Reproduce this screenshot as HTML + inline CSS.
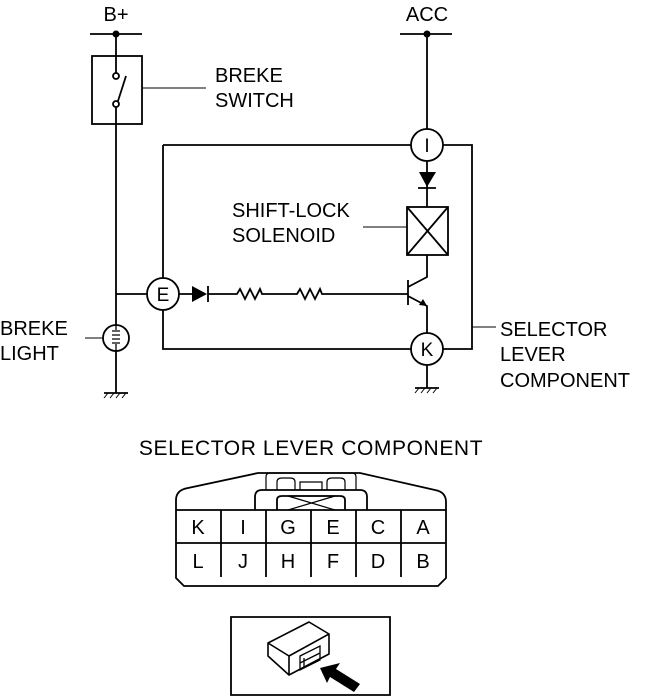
<!DOCTYPE html>
<html><head><style>body{margin:0;background:#fff}svg{display:block}text{font-family:"Liberation Sans",sans-serif;fill:#000}</style></head><body>
<svg width="650" height="697" viewBox="0 0 650 697" xmlns="http://www.w3.org/2000/svg">
<g stroke="#000" stroke-width="1.8" fill="none">
<line x1="90" y1="34" x2="142" y2="34"/><line x1="400" y1="34" x2="452" y2="34"/>
<rect x="92" y="56" width="50" height="68"/>
<line x1="116" y1="34" x2="116" y2="73"/><line x1="116" y1="107" x2="116" y2="393"/>
<circle cx="116" cy="76" r="3" fill="#fff"/><circle cx="116" cy="104" r="3" fill="#fff"/>
<line x1="118" y1="101" x2="126" y2="76"/>
<line x1="142" y1="88" x2="206" y2="88" stroke-width="1"/>
<line x1="427" y1="34" x2="427" y2="129"/>
<path d="M163 145 H411 M443 145 H472 V349 H443 M411 349 H163 V310 M163 278 V145"/>
<circle cx="427" cy="145" r="16"/><circle cx="427" cy="349" r="16"/><circle cx="163" cy="294" r="16"/>
<line x1="427" y1="161" x2="427" y2="207"/><line x1="418" y1="188" x2="436" y2="188"/>
<rect x="407" y="207" width="41" height="48"/><line x1="407" y1="207" x2="448" y2="255"/><line x1="448" y1="207" x2="407" y2="255"/>
<line x1="363" y1="227" x2="407" y2="227" stroke-width="1"/>
<path d="M427 255 V277 L408 287 M408 280 V305 M408 296 L427 306 V333"/>
<line x1="427" y1="365" x2="427" y2="388"/>
<line x1="116" y1="294" x2="147" y2="294"/>
<path d="M179 294 H192 M208 294 H237 L240 289 L245 299 L250 289 L255 299 L260 289 L262 294 H297 L300 289 L305 299 L310 289 L315 299 L320 289 L322 294 H408"/>
<line x1="208" y1="286" x2="208" y2="302"/>
<circle cx="116" cy="338" r="13" fill="#fff"/>
<path d="M116 325 V330 M112 331 H120 M112 335 H120 M112 339 H120 M112 343 H120 M116 344 V351" stroke-width="1.3"/>
<line x1="85" y1="338" x2="103" y2="338" stroke-width="1"/>
<line x1="472" y1="327" x2="496" y2="327" stroke-width="1"/>
<line x1="104" y1="393" x2="128" y2="393"/><path d="M104 398 L108 393 M110 398 L114 393 M116 398 L120 393 M122 398 L126 393" stroke-width="1"/>
<line x1="415" y1="388" x2="439" y2="388"/><path d="M415 393 L419 388 M421 393 L425 388 M427 393 L431 388 M433 393 L437 388" stroke-width="1"/>
</g>
<circle cx="116" cy="34" r="3.5"/><circle cx="427" cy="34" r="3.5"/>
<path d="M419 172 H436 L427 187 Z"/><path d="M192 286 V302 L207 294 Z"/><path d="M427 306 L419 305 L423 299 Z"/>
<g font-size="20">
<text x="116" y="21" text-anchor="middle">B+</text><text x="427" y="21" text-anchor="middle">ACC</text>
<text x="215" y="82">BREKE</text><text x="215" y="107">SWITCH</text>
<text x="232" y="217">SHIFT-LOCK</text><text x="232" y="242">SOLENOID</text>
<text x="0" y="335">BREKE</text><text x="0" y="360">LIGHT</text>
<text x="500" y="336">SELECTOR</text><text x="500" y="361">LEVER</text><text x="500" y="387">COMPONENT</text>
<text x="427" y="152" text-anchor="middle" font-size="19">I</text><text x="427" y="356" text-anchor="middle" font-size="19">K</text><text x="163" y="301" text-anchor="middle" font-size="19">E</text>
<text x="311" y="455" text-anchor="middle" font-size="21" letter-spacing="0.6">SELECTOR LEVER COMPONENT</text>
</g>
<g stroke="#000" stroke-width="1.8" fill="none">
<path d="M176 510 V500 Q176 490 188 488 L258 473 H360 L435 490 Q446 492 446 502 V578 L438 586 H184 L176 578 Z"/>
<line x1="176" y1="510" x2="446" y2="510"/><line x1="176" y1="543" x2="446" y2="543"/>
<path d="M221 510 V577 M266 510 V577 M311 510 V577 M356 510 V577 M401 510 V577"/>
<path d="M255 510 V497 Q255 490 262 490 H360 Q367 490 367 497 V510"/>
<path d="M277 510 V500 Q277 496 282 496 H340 Q345 496 345 500 V510"/>
<path d="M288 496 H335 M288 496 L335 510 M335 496 L288 510" stroke-width="1.2"/>
<path d="M266 490 V477 Q266 473 270 473 H352 Q356 473 356 477 V490" stroke-width="1.2"/>
<path d="M277 490 V482 Q277 478 282 478 H290 Q295 478 295 482 V490 M300 490 V482 H322 V490 M327 490 V482 Q327 478 332 478 H340 Q345 478 345 482 V490" stroke-width="1.2"/>
<path d="M231 695 V617 H390 V695 Z"/>
<path d="M268 643 L309 622 L329 634 L289 656 Z M268 643 V656 L289 675 V656 M289 675 L329 654 V634" stroke-width="1.6" stroke-linejoin="round"/>
<path d="M300 656 L320 646 V660 L300 670 Z M304 658 V667 M300 663 L320 653" stroke-width="1.3"/>
</g>
<path d="M320 668 L340 663 L336 669 L360 684 L354 692 L330 677 L327 683 Z"/>
<g font-size="20" text-anchor="middle">
<text x="198" y="534">K</text><text x="243" y="534">I</text><text x="288" y="534">G</text><text x="333" y="534">E</text><text x="378" y="534">C</text><text x="423" y="534">A</text>
<text x="198" y="568">L</text><text x="243" y="568">J</text><text x="288" y="568">H</text><text x="333" y="568">F</text><text x="378" y="568">D</text><text x="423" y="568">B</text>
</g>
</svg>
</body></html>
